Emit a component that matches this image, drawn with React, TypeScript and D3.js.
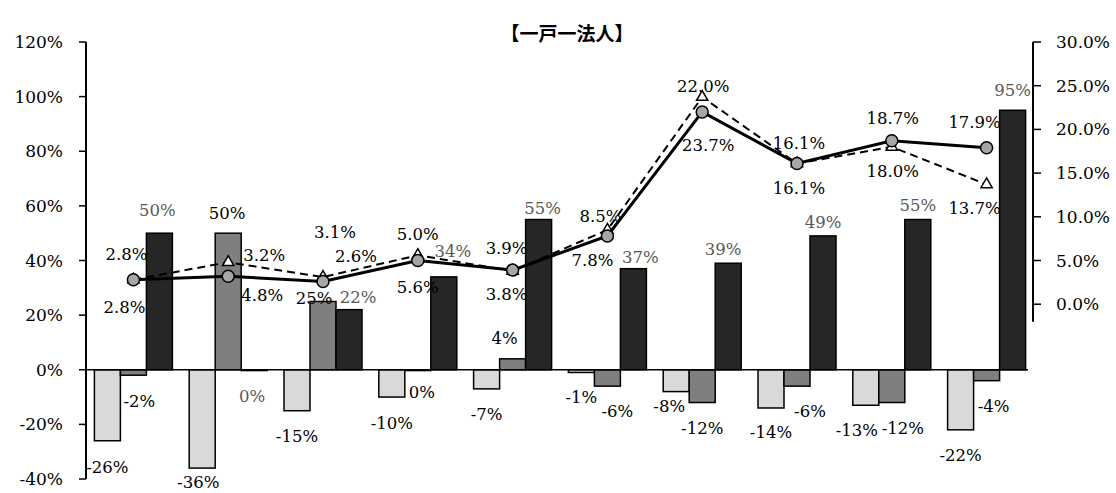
import React from "react";
import * as d3 from "d3";

// Categories (ten groups, unlabeled on the x axis)
const groups = ["g1", "g2", "g3", "g4", "g5", "g6", "g7", "g8", "g9", "g10"];

// Bar series (left axis, %)
const lightValues = [-26, -36, -15, -10, -7, -1, -8, -14, -13, -22];
const mediumValues = [-2, 50, 25, -0.3, 4, -6, -12, -6, -12, -4];
const darkValues = [50, -0.3, 22, 34, 55, 37, 39, 49, 55, 95];

// Line series (right axis, %)
const circleValues = [2.8, 3.2, 2.6, 5.0, 3.9, 7.8, 22.0, 16.1, 18.7, 17.9];
const triangleValues = [2.8, 4.8, 3.1, 5.6, 3.8, 8.5, 23.7, 16.1, 18.0, 13.7];

// Axis ticks
const leftTicks = [-40, -20, 0, 20, 40, 60, 80, 100, 120];
const rightTicks = [0, 5, 10, 15, 20, 25, 30];

const title = "【一戸一法人】";

// Label placement (dx from mark centre, dy from bar end / point)
const lightLabelOffsets: [number, number][] = [[0, 27], [-4, 14], [0, 26], [0, 26], [0, 26], [0, 25], [-7, 15], [0, 25], [-9, 25], [0, 26]];
const mediumLabelOffsets: [number, number][] = [[6, 26], [-1, -20], [-9, -3], [4, 22], [-8, -20], [10, 25], [0, 26], [13, 25], [11, 26], [7, 26]];
const darkLabelOffsets: [number, number][] = [[-2, -23], [-2, 26], [9, -12], [9, -25], [4, -11], [7, -11], [-5, -14], [0, -13], [0, -14], [0, -20]];
const circleLabelOffsets: [number, number][] = [[-7, -25], [36, -21], [33, -25], [0, -26], [-6, -22], [-15, 24], [1, -25], [2, -20], [1, -22], [-12, -25]];
const triangleLabelOffsets: [number, number][] = [[-9, 28], [34, 33], [12, -45], [0, 32], [-6, 24], [-7, -13], [6, 48], [2, 25], [1, 25], [-12, 24]];

const W = 1116;
const H = 493;
const X0 = 86;
const X1 = 1034;
const YTOP = 42;
const YBOT = 479;

const FONT = "'DejaVu Serif', serif";
const FS = 16.5;

const pct0 = (v: number) => {
  const r = Math.round(v);
  return `${r === 0 ? 0 : r}%`;
};
const pct1 = (v: number) => `${v.toFixed(1)}%`;

export default function App() {
  const x = d3.scaleBand<string>().domain(groups).range([X0, X1]).padding(0);
  const sub = d3
    .scaleBand<string>()
    .domain(["light", "medium", "dark"])
    .range([x.bandwidth() * 0.0886, x.bandwidth() * 0.9114])
    .padding(0);
  const yL = d3.scaleLinear().domain([-40, 120]).range([YBOT, YTOP]);
  const yR = d3.scaleLinear().domain([-20, 30]).range([YBOT, YTOP]);

  const barSeries = [
    { key: "light", values: lightValues, fill: "#d9d9d9", offsets: lightLabelOffsets, color: "#000" },
    { key: "medium", values: mediumValues, fill: "#7f7f7f", offsets: mediumLabelOffsets, color: "#000" },
    { key: "dark", values: darkValues, fill: "#262626", offsets: darkLabelOffsets, color: "#595959" },
  ];

  const cx = (i: number) => (x(groups[i]) as number) + x.bandwidth() / 2;

  const lineGen = d3
    .line<number>()
    .x((_, i) => cx(i))
    .y((v) => yR(v));

  const tri = d3.symbol().type(d3.symbolTriangle).size(55)();

  return (
    <svg
      width={W}
      height={H}
      style={{ position: "absolute", left: 0, top: 0, background: "#fff" }}
      fontFamily={FONT}
    >
      <rect width={W} height={H} fill="#fff" />
      {/* title */}
      <text
        x={567}
        y={32}
        textAnchor="middle"
        dominantBaseline="central"
        fontFamily="'Noto Sans CJK JP', sans-serif"
        fontWeight="bold"
        fontSize={19}
        fill="#000"
      >
        {title}
      </text>

      {/* bars */}
      {barSeries.map((s) =>
        s.values.map((v, i) => {
          const bx = (x(groups[i]) as number) + (sub(s.key) as number);
          const y0 = yL(0);
          const y1 = yL(v);
          return (
            <rect
              key={`${s.key}-${i}`}
              x={bx}
              y={Math.min(y0, y1)}
              width={sub.bandwidth()}
              height={Math.max(Math.abs(y1 - y0), 0.5)}
              fill={s.fill}
              stroke="#000"
              strokeWidth={1.5}
            />
          );
        })
      )}

      {/* zero line */}
      <line x1={X0} x2={1028} y1={yL(0)} y2={yL(0)} stroke="#000" strokeWidth={1.5} />

      {/* left axis */}
      <line x1={X0} x2={X0} y1={YTOP} y2={YBOT} stroke="#000" strokeWidth={2} />
      {leftTicks.map((t) => (
        <g key={`lt${t}`}>
          <line x1={X0 - 7} x2={X0} y1={yL(t)} y2={yL(t)} stroke="#000" strokeWidth={1.5} />
          <text x={63} y={yL(t)} textAnchor="end" dominantBaseline="central" fontSize={17} fill="#000">
            {`${t}%`}
          </text>
        </g>
      ))}

      {/* right axis */}
      <line x1={X1 - 1} x2={X1 - 1} y1={YTOP} y2={yR(-2)} stroke="#000" strokeWidth={2} />
      {rightTicks.map((t) => (
        <g key={`rt${t}`}>
          <line x1={X1 - 1} x2={X1 + 7} y1={yR(t)} y2={yR(t)} stroke="#000" strokeWidth={1.5} />
          <text x={1056} y={yR(t)} textAnchor="start" dominantBaseline="central" fontSize={17} fill="#000">
            {pct1(t)}
          </text>
        </g>
      ))}

      {/* lines */}
      <path d={lineGen(triangleValues) ?? ""} fill="none" stroke="#000" strokeWidth={2} strokeDasharray="8,5" />
      <path d={lineGen(circleValues) ?? ""} fill="none" stroke="#000" strokeWidth={3} />
      {triangleValues.map((v, i) => (
        <path
          key={`tri${i}`}
          d={tri ?? ""}
          transform={`translate(${cx(i)},${yR(v)})`}
          fill="#fff"
          stroke="#000"
          strokeWidth={1.5}
        />
      ))}
      {circleValues.map((v, i) => (
        <circle key={`c${i}`} cx={cx(i)} cy={yR(v)} r={6} fill="#a6a6a6" stroke="#000" strokeWidth={1.5} />
      ))}

      {/* bar labels */}
      {barSeries.map((s) =>
        s.values.map((v, i) => {
          const bx = (x(groups[i]) as number) + (sub(s.key) as number) + sub.bandwidth() / 2;
          const [dx, dy] = s.offsets[i];
          return (
            <text
              key={`bl-${s.key}-${i}`}
              x={bx + dx}
              y={yL(v) + dy}
              textAnchor="middle"
              dominantBaseline="central"
              fontSize={FS}
              fill={s.color}
            >
              {pct0(v)}
            </text>
          );
        })
      )}

      {/* line labels */}
      {circleValues.map((v, i) => (
        <text
          key={`cl${i}`}
          x={cx(i) + circleLabelOffsets[i][0]}
          y={yR(v) + circleLabelOffsets[i][1]}
          textAnchor="middle"
          dominantBaseline="central"
          fontSize={FS}
          fill="#000"
        >
          {pct1(v)}
        </text>
      ))}
      {triangleValues.map((v, i) => (
        <text
          key={`tl${i}`}
          x={cx(i) + triangleLabelOffsets[i][0]}
          y={yR(v) + triangleLabelOffsets[i][1]}
          textAnchor="middle"
          dominantBaseline="central"
          fontSize={FS}
          fill="#000"
        >
          {pct1(v)}
        </text>
      ))}
    </svg>
  );
}
